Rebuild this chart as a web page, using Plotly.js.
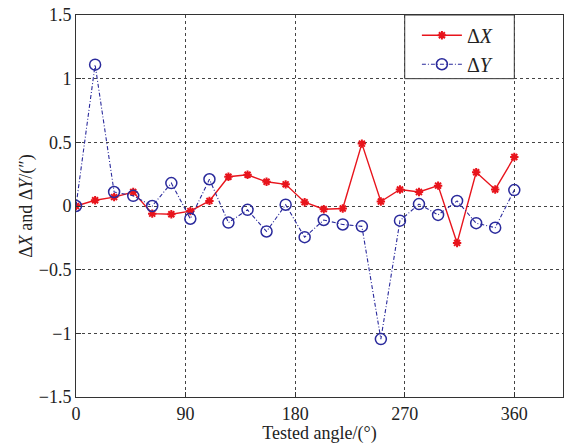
<!DOCTYPE html>
<html>
<head>
<meta charset="utf-8">
<script src="https://cdn.plot.ly/plotly-3.0.1.min.js"></script>
<style>html,body{margin:0;padding:0;background:#fff;}#chart{width:564px;height:444px;}</style>
</head>
<body>
<div id="chart"></div>
<script>
const angles = [0, 15.7, 31.3, 47, 62.6, 78.3, 93.9, 109.6, 125.2, 140.9, 156.5, 172.2,
                187.8, 203.5, 219.1, 234.8, 250.4, 266.1, 281.7, 297.4, 313, 328.7, 344.3, 360];
const deltaX = [0, 0.045, 0.07, 0.11, -0.06, -0.065, -0.04, 0.04, 0.23, 0.245, 0.19, 0.17,
                0.03, -0.025, -0.02, 0.49, 0.035, 0.13, 0.11, 0.16, -0.29, 0.265, 0.13, 0.385];
const deltaY = [0, 1.11, 0.11, 0.08, 0.0, 0.18, -0.10, 0.21, -0.13, -0.03, -0.20, 0.01,
                -0.245, -0.11, -0.145, -0.16, -1.045, -0.115, 0.015, -0.07, 0.04, -0.135, -0.17, 0.125];
const xTicks = [0, 90, 180, 270, 360];
const yTicks = [-1.5, -1, -0.5, 0, 0.5, 1, 1.5];

const font = '"Times New Roman", "Liberation Serif", "DejaVu Serif", serif';

const traces = [
  {
    x: angles, y: deltaX, name: '\u0394<i>X</i>', type: 'scatter', mode: 'lines+markers',
    line: {color: '#e8141c', width: 1.4},
    marker: {symbol: 'asterisk-open', size: 7, color: '#e8141c', line: {color: '#e8141c', width: 2}}
  },
  {
    x: angles, y: deltaY, name: '\u0394<i>Y</i>', type: 'scatter', mode: 'lines+markers',
    line: {color: '#2a2a9c', width: 1.1, dash: '4px,2px,1px,2px'},
    marker: {symbol: 'circle-open', size: 11, color: '#2a2a9c', line: {color: '#2a2a9c', width: 1.5}}
  }
];

const layout = {
  width: 564, height: 444,
  margin: {l: 76, r: 1, t: 15, b: 47},
  paper_bgcolor: '#fff', plot_bgcolor: '#fff',
  font: {family: font, size: 16, color: '#222'},
  showlegend: true,
  legend: {
    x: 0.7, y: 0.998, xanchor: 'left', yanchor: 'top',
    bgcolor: 'rgba(0,0,0,0)', borderwidth: 0,
    font: {family: font, size: 20, color: '#222'},
    tracegroupgap: 0, itemwidth: 40
  },
  shapes: [{
    type: 'rect', xref: 'x', yref: 'y', x0: 270, x1: 360, y0: 1.0, y1: 1.5,
    fillcolor: '#fff', line: {color: '#333', width: 1}, layer: 'above'
  }],
  xaxis: {
    range: [0, 400], tickvals: xTicks, ticktext: xTicks.map(String),
    showgrid: true, gridcolor: '#444', griddash: 'dot', gridwidth: 1,
    zeroline: false, showline: true, linecolor: '#333', linewidth: 1, mirror: true,
    ticks: 'inside', ticklen: 5, tickcolor: '#333',
    tickfont: {family: font, size: 18, color: '#222'},
    title: {text: 'Tested angle/(\u00b0)', font: {family: font, size: 18, color: '#222'}, standoff: 0}
  },
  yaxis: {
    range: [-1.5, 1.5], tickvals: yTicks,
    showgrid: true, gridcolor: '#444', griddash: 'dot', gridwidth: 1,
    zeroline: false, showline: true, linecolor: '#333', linewidth: 1, mirror: true,
    ticks: 'inside', ticklen: 5, tickcolor: '#333',
    tickfont: {family: font, size: 18, color: '#222'},
    title: {text: '\u0394<i>X</i> and \u0394<i>Y</i>/(\u2033)', font: {family: font, size: 18, color: '#222'}, standoff: 1}
  }
};

Plotly.newPlot('chart', traces, layout, {displayModeBar: false, staticPlot: true});
</script>
</body>
</html>
